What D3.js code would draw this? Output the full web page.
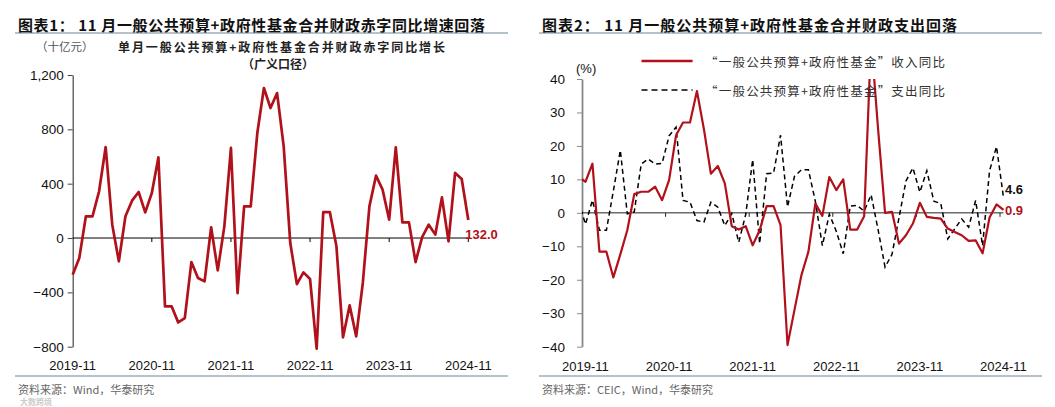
<!DOCTYPE html>
<html>
<head>
<meta charset="utf-8">
<script src="https://cdn.jsdelivr.net/npm/d3@7"></script>
<style>
  body { margin: 0; background: #fff; }
  svg { display: block; }
</style>
</head>
<body>
<script>
const width = 1055;
const height = 407;

// ---- data ----
const yearTicks = [0, 12, 24, 36, 48, 60];
const yearLabels = ["2019-11", "2020-11", "2021-11", "2022-11", "2023-11", "2024-11"];

// chart 1: monthly broad deficit yoy change, bn yuan, 2019-11 .. 2024-11
const deficitChange = [
  -270, -147, 160, 160, 344, 670, 98, -172, 160, 275, 339, 189,
  331, 594, -503, -503, -621, -589, -177, -294, -319, 79, -238, 86,
  663, -405, 233, 233, 773, 1104, 957, 1067, 675, -37, -339, -253,
  -302, -815, 191, 191, -61, -731, -496, -724, -331, 233, 459, 356,
  135, 667, 115, 115, -177, 7, 98, 25, 299, -25, 479, 434,
  132
];
const deficitTicks = [-800, -400, 0, 400, 800, 1200];

// chart 2: yoy %, 2019-10 .. 2024-11 (first month lies left of the axis)
const revenueYoY = [
  10.7,
  9.3, 14.7, -11.6, -11.6, -19.3, -12.4, -5.2, 5.6, 6.3, 6.3, 7.8, 3.8,
  9.8, 23.2, 27.0, 27.0, 36.4, 25.0, 11.7, 14.0, 8.8, -4.0, -5.0, -4.0,
  -9.7, -5.2, 2.0, 2.0, -3.7, -39.5, -29.0, -18.6, -11.6, 2.8, -0.9, 10.7,
  6.8, 10.0, -5.0, -5.0, -1.0, 52.0, 25.0, 0.0, 0.3, -9.2, -6.7, -3.2,
  3.0, -1.2, -1.5, -1.7, -4.7, -5.7, -6.7, -8.4, -8.2, -12.1, -1.4, 2.5,
  0.9
];
const spendingYoY = [
  3.5,
  -3.4, 3.8, -5.2, -5.2, 6.5, 18.7, -0.3, 0.3, 14.6, 16.1, 14.6, 14.8,
  23.0, 25.6, 3.7, 3.2, -2.3, -2.8, 3.2, 1.7, -3.8, -0.2, -8.8, -0.5,
  15.9, -9.2, 11.7, 11.9, 23.2, 1.8, 10.9, 12.9, 12.9, 3.4, -9.8, -0.4,
  -5.5, -12.2, 2.0, 2.2, 0.5, 5.4, -5.0, -16.2, -12.4, -1.5, 9.5, 13.4,
  6.2, 12.6, 3.5, 2.8, -7.8, -4.8, -1.8, -4.3, 3.7, -9.8, 12.6, 19.8,
  4.6
];
const pctTicks = [-40, -30, -20, -10, 0, 10, 20, 30, 40];

const red = "#b0111a";
const cjk = "'Noto Sans CJK SC', sans-serif";
const latin = "'Liberation Sans', Arial, sans-serif";

const svg = d3.select("body")
  .append("svg")
  .attr("width", width)
  .attr("height", height)
  .attr("viewBox", [0, 0, width, height]);

svg.append("rect").attr("width", width).attr("height", height).attr("fill", "#fff");

// ---- panel headers / footers ----
function panelFrame(x0, x1, title, titleLen, source) {
  svg.append("text")
    .attr("x", x0 + 3).attr("y", 24)
    .attr("dominant-baseline", "central")
    .attr("font-family", cjk).attr("font-weight", "bold").attr("font-size", 15)
    .attr("textLength", titleLen)
    .attr("fill", "#111")
    .text(title);
  svg.append("line")
    .attr("x1", x0).attr("x2", x1).attr("y1", 33).attr("y2", 33)
    .attr("stroke", "#6e8596").attr("stroke-width", 1);
  svg.append("line")
    .attr("x1", x0).attr("x2", x1).attr("y1", 376).attr("y2", 376)
    .attr("stroke", "#6e8596").attr("stroke-width", 1);
  svg.append("text")
    .attr("x", x0 + 3).attr("y", 389)
    .attr("dominant-baseline", "central")
    .attr("font-family", cjk).attr("font-size", 11)
    .attr("fill", "#666")
    .text(source);
}

panelFrame(15, 508, "图表1： 11 月一般公共预算+政府性基金合并财政赤字同比增速回落", 467, "资料来源：Wind，华泰研究");
panelFrame(539, 1042, "图表2： 11 月一般公共预算+政府性基金合并财政支出回落", 415, "资料来源：CEIC，Wind，华泰研究");

// faint site watermark, kept just under the left source line
svg.append("text")
  .attr("x", 20).attr("y", 401)
  .attr("dominant-baseline", "central")
  .attr("font-family", cjk).attr("font-weight", "bold").attr("font-size", 8)
  .attr("fill", "#ccc")
  .text("大数跨境");

// ---- chart 1 ----
const x1 = d3.scaleLinear().domain([0, 60]).range([72.7, 468.3]);
const y1 = d3.scaleLinear().domain([-800, 1200]).range([346.7, 75]);

const g1 = svg.append("g");

g1.append("text")
  .attr("x", 36).attr("y", 46).attr("dominant-baseline", "central")
  .attr("font-family", cjk).attr("font-size", 11.5).attr("fill", "#555")
  .text("（十亿元）");
g1.append("text")
  .attr("x", 118).attr("y", 46).attr("dominant-baseline", "central")
  .attr("font-family", cjk).attr("font-weight", "bold").attr("font-size", 12).attr("fill", "#222")
  .attr("textLength", 327)
  .text("单月一般公共预算+政府性基金合并财政赤字同比增长");
g1.append("text")
  .attr("x", 278).attr("y", 63).attr("dominant-baseline", "central")
  .attr("text-anchor", "middle")
  .attr("font-family", cjk).attr("font-weight", "bold").attr("font-size", 12).attr("fill", "#222")
  .text("（广义口径）");

const yAxis1 = g1.append("g")
  .attr("transform", `translate(${x1(0)},0)`)
  .call(d3.axisLeft(y1).tickValues(deficitTicks).tickSize(5).tickSizeOuter(0)
    .tickPadding(4).tickFormat(d3.format(",")));
yAxis1.select(".domain").attr("stroke", "#444").attr("stroke-width", 1.2);
yAxis1.selectAll(".tick line").attr("stroke", "#444");
yAxis1.selectAll(".tick text").attr("font-family", latin).attr("font-size", 13.5).attr("fill", "#111");

// zero line with year ticks
g1.append("line")
  .attr("x1", x1(0)).attr("x2", x1(60)).attr("y1", y1(0)).attr("y2", y1(0))
  .attr("stroke", "#000").attr("stroke-width", 1);
g1.selectAll(".ztick1")
  .data(yearTicks.slice(1))
  .enter().append("line")
  .attr("x1", d => x1(d)).attr("x2", d => x1(d))
  .attr("y1", y1(0)).attr("y2", y1(0) + 4)
  .attr("stroke", "#000");

g1.selectAll(".xlab1")
  .data(yearTicks)
  .enter().append("text")
  .attr("x", d => x1(d)).attr("y", 365)
  .attr("text-anchor", "middle").attr("dominant-baseline", "central")
  .attr("font-family", latin).attr("font-size", 13).attr("fill", "#111")
  .text((d, i) => yearLabels[i]);

g1.append("path")
  .datum(deficitChange)
  .attr("fill", "none")
  .attr("stroke", red)
  .attr("stroke-width", 2.7)
  .attr("stroke-linejoin", "round")
  .attr("d", d3.line().x((d, i) => x1(i)).y(d => y1(d)));

g1.append("text")
  .attr("x", x1(60) - 3).attr("y", y1(0) - 4)
  .attr("dominant-baseline", "central")
  .attr("font-family", latin).attr("font-weight", "bold").attr("font-size", 13)
  .attr("fill", red)
  .text(d3.format(".1f")(deficitChange[deficitChange.length - 1]));

// ---- chart 2 ----
const x2 = d3.scaleLinear().domain([0, 60]).range([582, 1000]);
const y2 = d3.scaleLinear().domain([-40, 40]).range([346.7, 79]);

const g2 = svg.append("g");

svg.append("defs").append("clipPath").attr("id", "clip2")
  .append("rect")
  .attr("x", x2(0)).attr("y", y2(40))
  .attr("width", x2(61) - x2(0)).attr("height", y2(-40) - y2(40) + 2);

g2.append("text")
  .attr("x", 576).attr("y", 68).attr("dominant-baseline", "central")
  .attr("font-family", latin).attr("font-size", 13).attr("fill", "#111")
  .text("(%)");

const yAxis2 = g2.append("g")
  .attr("transform", `translate(${x2(0)},0)`)
  .call(d3.axisLeft(y2).tickValues(pctTicks).tickSize(5).tickSizeOuter(0).tickPadding(12));
yAxis2.select(".domain").attr("stroke", "#888").attr("stroke-width", 1.8);
yAxis2.selectAll(".tick line").attr("stroke", "#888");
yAxis2.selectAll(".tick text").attr("font-family", latin).attr("font-size", 13.5).attr("fill", "#111");

g2.append("line")
  .attr("x1", x2(0)).attr("x2", x2(60.5)).attr("y1", y2(0)).attr("y2", y2(0))
  .attr("stroke", "#222").attr("stroke-width", 1);
g2.selectAll(".ztick2")
  .data(yearTicks.slice(1))
  .enter().append("line")
  .attr("x1", d => x2(d)).attr("x2", d => x2(d))
  .attr("y1", y2(0)).attr("y2", y2(0) + 4)
  .attr("stroke", "#222");

g2.selectAll(".xlab2")
  .data(yearTicks)
  .enter().append("text")
  .attr("x", d => x2(d + 0.5)).attr("y", 366)
  .attr("text-anchor", "middle").attr("dominant-baseline", "central")
  .attr("font-family", latin).attr("font-size", 13).attr("fill", "#111")
  .text((d, i) => yearLabels[i]);

// series start one month before 2019-11, points sit mid-month
const line2 = d3.line().x((d, i) => x2(i - 0.5)).y(d => y2(d));
const plot2 = g2.append("g").attr("clip-path", "url(#clip2)");

plot2.append("path")
  .datum(spendingYoY)
  .attr("fill", "none")
  .attr("stroke", "#000")
  .attr("stroke-width", 1.5)
  .attr("stroke-dasharray", "5,3.5")
  .attr("d", line2);

plot2.append("path")
  .datum(revenueYoY)
  .attr("fill", "none")
  .attr("stroke", red)
  .attr("stroke-width", 2.2)
  .attr("stroke-linejoin", "round")
  .attr("d", line2);

// legend
const legendItems = [
  { label: "“一般公共预算+政府性基金”收入同比", color: red, dash: null, w: 2.5, y: 61 },
  { label: "“一般公共预算+政府性基金”支出同比", color: "#000", dash: "6,4", w: 1.5, y: 90 }
];
const legend = g2.selectAll(".legend")
  .data(legendItems)
  .enter().append("g");
legend.append("line")
  .attr("x1", 641.5).attr("x2", 692.6)
  .attr("y1", d => d.y).attr("y2", d => d.y)
  .attr("stroke", d => d.color)
  .attr("stroke-width", d => d.w)
  .attr("stroke-dasharray", d => d.dash);
legend.append("text")
  .attr("x", 705).attr("y", d => d.y)
  .attr("dominant-baseline", "central")
  .attr("font-family", cjk).attr("font-size", 12.5).attr("fill", "#333")
  .attr("textLength", 240)
  .text(d => d.label);

// end labels
g2.append("text")
  .attr("x", 1005).attr("y", 189).attr("dominant-baseline", "central")
  .attr("font-family", latin).attr("font-weight", "bold").attr("font-size", 13)
  .attr("fill", "#111")
  .text(d3.format(".1f")(spendingYoY[spendingYoY.length - 1]));
g2.append("text")
  .attr("x", 1005).attr("y", 210).attr("dominant-baseline", "central")
  .attr("font-family", latin).attr("font-weight", "bold").attr("font-size", 13)
  .attr("fill", red)
  .text(d3.format(".1f")(revenueYoY[revenueYoY.length - 1]));
</script>
</body>
</html>
